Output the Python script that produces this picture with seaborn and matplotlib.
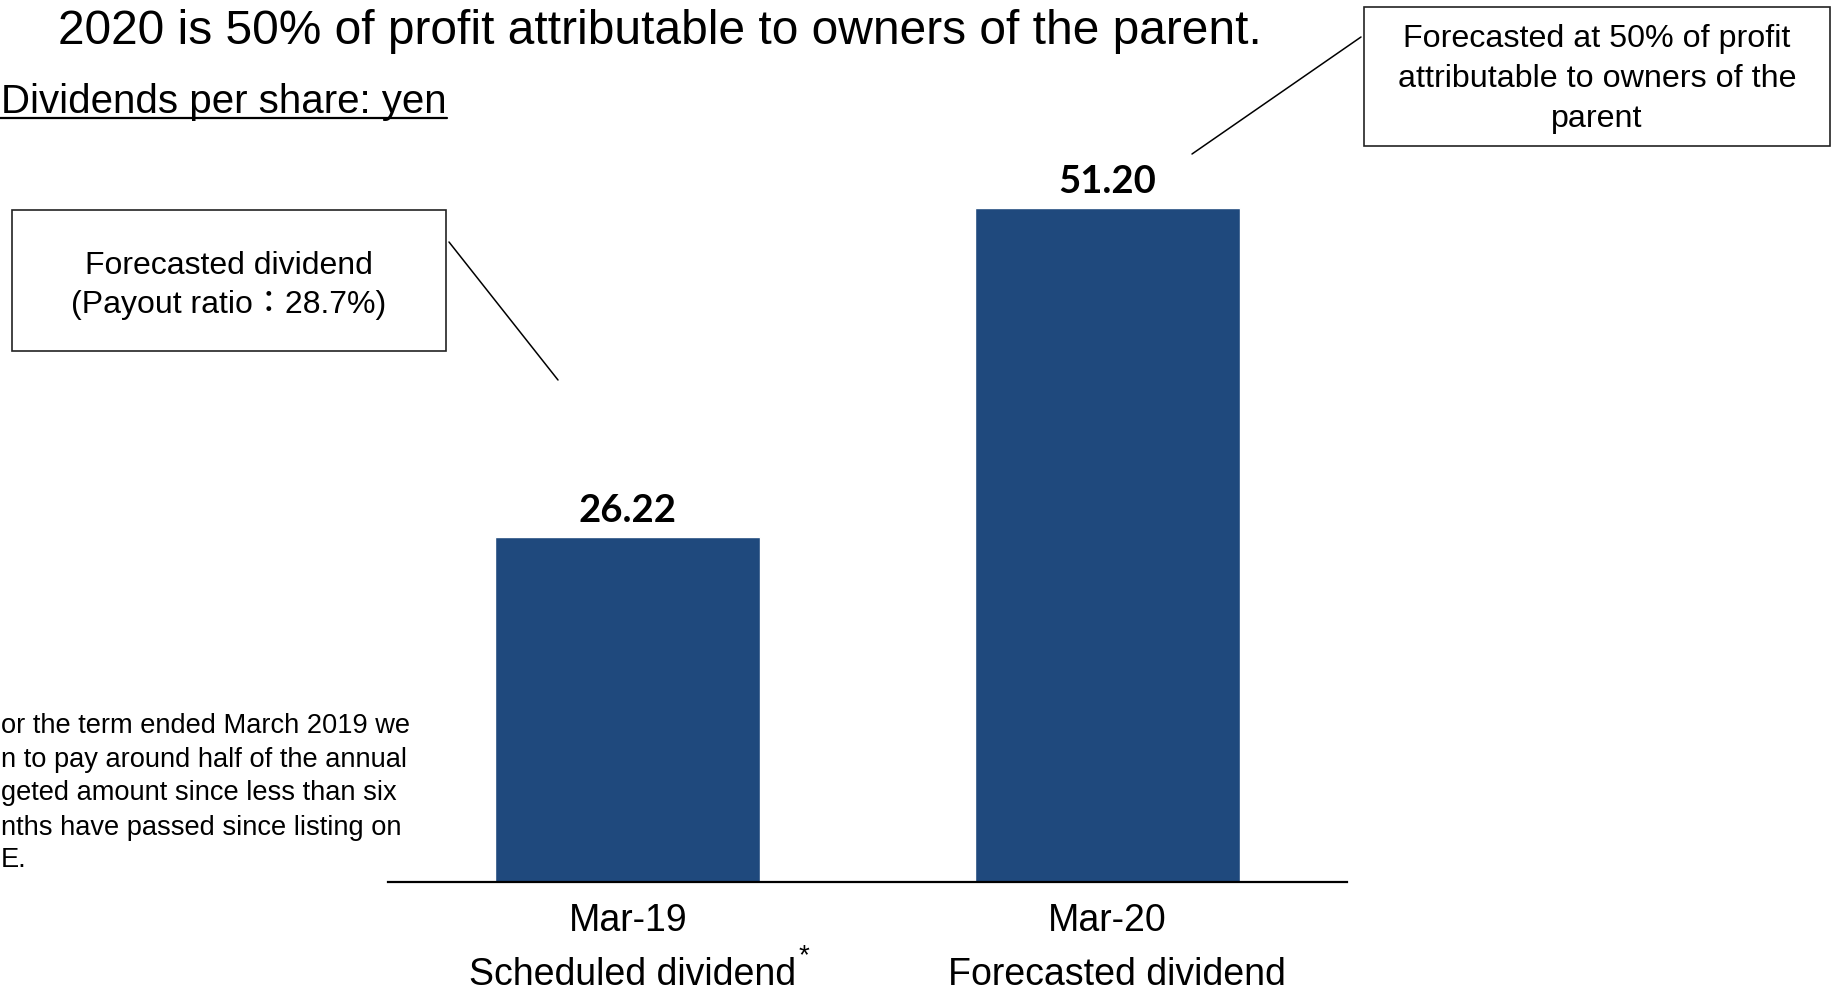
import numpy as np
import pandas as pd
import matplotlib
matplotlib.use('Agg')
import matplotlib.pyplot as plt
from matplotlib.patches import Rectangle
from matplotlib.lines import Line2D
import seaborn as sns

# Chart data
periods = ['Mar-19', 'Mar-20']
dividend_types = ['Scheduled dividend', 'Forecasted dividend']
dividends = [26.22, 51.20]
value_labels = ['26.22', '51.20']

headline = '2020 is 50% of profit attributable to owners of the parent.'
unit_title = 'Dividends per share: yen'
left_note = ['Forecasted dividend', '(Payout ratio\uff1a28.7%)']
right_note = ['Forecasted at 50% of profit', 'attributable to owners of the', 'parent']
# footnote as visible on the slide (its left edge is cut off there)
footnote = ['or the term ended March 2019 we',
            'n to pay around half of the annual',
            'geted amount since less than six',
            'nths have passed since listing on',
            'E.']

BAR_COLOR = '#1F497D'
W, H = 1832, 995

sns.set_theme(style='white')
plt.rcParams['font.family'] = ['Liberation Sans', 'Noto Sans CJK JP', 'DejaVu Sans']


def px(x, y):
    # pixel position (from top-left) -> figure fraction
    return x / W, 1 - y / H


df = pd.DataFrame({'period': periods, 'dividend': dividends})

fig = plt.figure(figsize=(W / 100, H / 100), dpi=100)
ax = fig.add_axes([388 / W, 1 - 883 / H, (1347 - 388) / W, 883 / H])

sns.barplot(data=df, x='period', y='dividend', color=BAR_COLOR, saturation=1,
            width=0.552, ax=ax)

ax.set_xlim(-0.5, 1.5)
ax.set_ylim(0, 67.1)
ax.set_xlabel('')
ax.set_ylabel('')
ax.set_yticks([])
for side in ['top', 'right', 'left']:
    ax.spines[side].set_visible(False)
ax.spines['bottom'].set_color('black')
ax.spines['bottom'].set_linewidth(1.6)
ax.patch.set_alpha(0)
ax.tick_params(axis='x', length=0, pad=14.5, labelsize=27, labelcolor='black')

# value labels on top of the bars
for i, (v, lab) in enumerate(zip(dividends, value_labels)):
    ax.annotate(lab, (i, v), xytext=(0, 11.5), textcoords='offset points',
                ha='center', va='baseline', fontsize=27.5, fontweight='bold',
                family='Lato', color='black')

# second line under the tick labels
for i, lab in enumerate(dividend_types):
    x_off = [5, 10][i]
    ax.annotate(lab, (i, 0), xycoords=('data', 'axes fraction'),
                xytext=(x_off * 0.72, -73.5), textcoords='offset points',
                ha='center', va='baseline', fontsize=27, color='black',
                annotation_clip=False)
ax.annotate('*', (0, 0), xycoords=('data', 'axes fraction'),
            xytext=(176 * 0.72, -58), textcoords='offset points',
            ha='center', va='baseline', fontsize=20, color='black',
            annotation_clip=False)

# headline and unit title
fig.text(*px(58, 44), headline, fontsize=34.5, ha='left', va='baseline', color='black')
fig.text(*px(1, 113), unit_title, fontsize=29, ha='left', va='baseline', color='black')
fig.add_artist(Line2D([0, 447 / W], [1 - 119 / H, 1 - 119 / H], transform=fig.transFigure,
                      color='black', lw=1.6))

# left call-out box
x0, y0 = px(12, 352)
fig.add_artist(Rectangle((x0, y0), (446 - 12) / W, (352 - 211) / H, transform=fig.transFigure,
                         fill=False, edgecolor='#222222', lw=1.2))
for line, yb in zip(left_note, [274, 313]):
    fig.text(*px(229, yb), line, fontsize=23, ha='center', va='baseline', color='black')
fig.add_artist(Line2D([449 / W, 558 / W], [1 - 243 / H, 1 - 381 / H], transform=fig.transFigure,
                      color='black', lw=1.1))

# right call-out box
x0, y0 = px(1364, 147)
fig.add_artist(Rectangle((x0, y0), (1830 - 1364) / W, (147 - 8) / H, transform=fig.transFigure,
                         fill=False, edgecolor='#222222', lw=1.2))
for line, yb in zip(right_note, [47, 87, 127]):
    fig.text(*px(1597, yb), line, fontsize=23.2, ha='center', va='baseline', color='black')
fig.add_artist(Line2D([1361 / W, 1192 / W], [1 - 38 / H, 1 - 155 / H], transform=fig.transFigure,
                      color='black', lw=1.1))

# footnote
for line, yb in zip(footnote, [733, 767, 800, 835, 867]):
    fig.text(*px(1, yb), line, fontsize=19.6, ha='left', va='baseline', color='black')

fig.savefig('out.png', dpi=100, facecolor='white')
